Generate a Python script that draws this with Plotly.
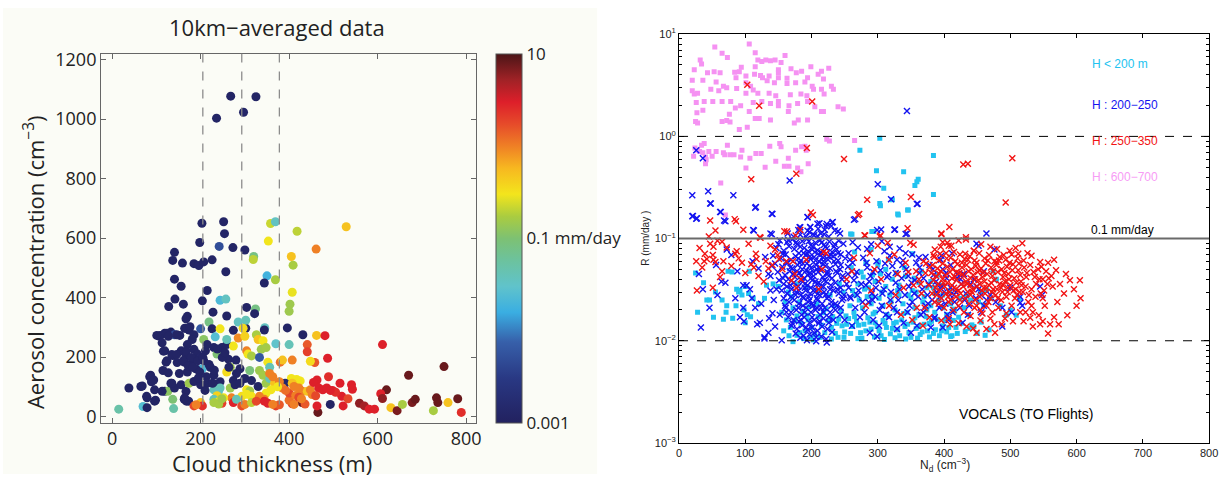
import numpy as np
import plotly.graph_objects as go

W, H = 1226, 480


def px(x):
    return x / W


def py(y):
    return 1 - y / H


# ---------------- left panel: 10 km averaged samples ----------------
# (cloud thickness [m], aerosol concentration [cm^-3], rain rate [mm/day])
left_points = [
    (236, 1003, 0.0012), (268, 1077, 0.0012), (297, 1023, 0.0013), (325, 1075, 0.0012),
    (203, 650, 0.0012), (252, 655, 0.0012), (254, 615, 0.0013), (198, 585, 0.0012), (242, 572, 0.005),
    (273, 568, 0.0012), (300, 560, 0.0013), (353, 590, 0.3), (358, 649, 0.22), (369, 655, 0.035),
    (418, 623, 0.2), (529, 638, 0.5), (461, 563, 1.0), (405, 538, 0.5), (320, 538, 0.08),
    (141, 552, 0.0012), (137, 525, 0.0012), (159, 516, 0.0012), (185, 514, 0.0012), (196, 508, 0.0013),
    (207, 520, 0.0012), (226, 527, 0.0012), (319, 528, 0.2), (257, 487, 0.0012), (409, 509, 0.17),
    (350, 473, 0.018), (369, 460, 0.17), (344, 449, 0.0012), (141, 462, 0.0012), (156, 438, 0.0012),
    (215, 424, 0.0012), (407, 418, 0.28), (402, 378, 0.15), (400, 354, 0.15), (142, 395, 0.0012),
    (128, 370, 0.0012), (161, 378, 0.0012), (170, 337, 0.0012), (204, 389, 0.0012), (228, 351, 0.0012),
    (244, 391, 0.022), (257, 395, 0.035), (259, 338, 0.0012), (304, 367, 0.0012), (324, 362, 0.08),
    (322, 346, 0.0012), (302, 297, 0.0013), (274, 290, 0.0012), (285, 318, 0.035), (302, 324, 0.04),
    (345, 299, 0.035), (344, 291, 0.0012), (396, 298, 0.0012), (431, 275, 0.0012), (462, 273, 0.5),
    (481, 272, 3.0), (441, 242, 1.5), (441, 218, 2.0), (458, 182, 1.5), (487, 196, 3.0),
    (611, 242, 3.0), (750, 168, 8.0), (670, 139, 8.0), (620, 90, 8.0), (607, 77, 3.0), (611, 61, 6.0),
    (489, 134, 2.5), (400, 242, 0.04), (370, 245, 0.03), (380, 183, 1.2), (385, 190, 0.5), (407, 190, 1.0),
    (417, 125, 0.3), (425, 120, 0.3), (405, 128, 0.3), (448, 186, 0.35), (391, 112, 0.0015),
    (519, 68, 3.0), (533, 60, 1.8), (541, 107, 3.0), (543, 92, 3.0), (515, 112, 3.0), (498, 88, 3.0),
    (505, 82, 2.5), (559, 45, 6.0), (570, 36, 5.0), (581, 25, 3.0), (593, 25, 3.0), (630, 30, 0.5),
    (644, 20, 7.0), (656, 41, 0.17), (678, 47, 7.0), (685, 58, 8.0), (726, 20, 0.17), (733, 63, 8.0),
    (736, 47, 8.0), (759, 47, 0.5), (781, 60, 8.0), (789, 14, 2.5), (522, 36, 3.0), (493, 41, 0.0012),
    (465, 14, 8.0), (463, 36, 3.0), (429, 47, 8.0), (436, 42, 1.5), (407, 43, 2.0), (400, 55, 1.2),
    (400, 79, 1.8),
    (15, 25, 0.05), (38, 96, 0.0012), (70, 34, 0.025), (79, 30, 0.0012), (65, 101, 0.0012), (78, 68, 0.0012),
    (96, 52, 0.0012), (85, 134, 0.0012), (89, 117, 0.0012), (96, 90, 0.0012), (119, 85, 0.0012),
    (126, 85, 0.12), (137, 58, 0.1), (139, 27, 0.05), (141, 96, 0.0012), (133, 112, 0.0012),
    (115, 155, 0.0012), (122, 183, 0.0012), (119, 221, 0.0012), (107, 270, 0.0012), (119, 280, 0.0012),
    (133, 284, 0.0012), (141, 275, 0.005), (137, 205, 0.0012), (156, 221, 0.0012), (167, 204, 0.0012),
    (163, 183, 0.0012), (170, 150, 0.0012), (156, 107, 0.0012), (167, 85, 0.0012), (163, 58, 0.0012),
    (173, 52, 0.0012), (174, 112, 0.15), (185, 118, 0.0012), (167, 297, 0.0012), (174, 291, 0.0012),
    (185, 275, 0.0012), (181, 259, 0.0012), (170, 242, 0.0012), (185, 226, 0.0012), (193, 210, 0.0012),
    (200, 199, 0.0013), (204, 161, 0.022), (207, 188, 0.0012), (211, 221, 0.0012), (200, 295, 0.006),
    (207, 259, 0.12), (215, 242, 0.0012), (219, 318, 0.08), (226, 295, 0.0012), (233, 268, 0.025),
    (230, 232, 0.0012), (237, 210, 0.1), (248, 232, 0.0012), (259, 242, 0.0012), (244, 295, 0.3),
    (259, 259, 0.04), (274, 237, 0.3), (263, 193, 0.0012), (267, 166, 0.15), (259, 150, 0.35),
    (285, 264, 0.9), (296, 297, 0.35), (300, 270, 0.4), (304, 221, 1.0), (307, 210, 0.3), (315, 204, 0.17),
    (326, 275, 0.17), (330, 259, 0.5), (341, 255, 0.3), (337, 226, 0.15), (333, 199, 0.006),
    (348, 232, 0.16), (352, 183, 0.3), (356, 166, 0.04), (333, 155, 0.15), (311, 155, 0.09),
    (289, 161, 0.0012), (281, 145, 0.0012), (274, 121, 0.0012), (244, 117, 0.0012), (230, 139, 0.0012),
    (215, 112, 0.0012), (200, 107, 0.0012), (189, 161, 0.0012), (178, 177, 0.0012), (222, 166, 0.0012),
    (235, 108, 0.0013), (244, 96, 0.04), (230, 90, 0.04), (240, 80, 0.035), (237, 70, 0.4),
    (267, 96, 0.15), (278, 107, 0.0012), (289, 112, 0.0012), (300, 128, 0.0012), (315, 121, 0.0012),
    (330, 101, 0.0012), (304, 90, 0.3), (311, 86, 0.16), (315, 68, 0.3), (293, 68, 0.35),
    (341, 139, 0.16), (348, 112, 0.15), (356, 128, 0.04), (367, 112, 0.5), (359, 90, 0.3), (348, 79, 0.3),
    (333, 68, 1.0), (344, 58, 1.0), (370, 36, 2.0), (378, 40, 1.5), (363, 134, 1.0), (378, 117, 1.0),
    (385, 96, 1.0), (392, 88, 1.2), (374, 100, 0.3), (356, 145, 1.0), (270, 63, 1.0), (252, 63, 0.3),
    (230, 58, 0.04), (240, 50, 0.3), (248, 45, 2.0), (200, 47, 0.5), (204, 36, 2.5), (185, 36, 1.8),
    (190, 40, 1.0), (230, 47, 0.17), (241, 42, 0.17), (248, 60, 0.16), (274, 47, 3.0), (281, 58, 0.04),
    (293, 36, 1.8), (300, 41, 1.0), (304, 75, 0.3), (315, 47, 0.2), (326, 52, 1.8), (344, 52, 3.0),
    (352, 45, 3.0), (363, 41, 1.0), (411, 41, 1.0), (407, 112, 0.5), (411, 101, 1.0), (422, 96, 1.0),
    (430, 85, 1.0), (441, 85, 0.5), (448, 90, 1.0), (463, 123, 3.0), (455, 115, 3.0), (467, 96, 3.0),
    (476, 90, 3.0), (485, 96, 3.0), (493, 88, 3.0), (452, 74, 1.0), (460, 70, 1.8), (415, 71, 1.0),
    (422, 65, 1.8), (428, 60, 1.0),
    (68, 103, 0.0012), (79, 63, 0.0012), (98, 55, 0.0012), (87, 139, 0.0012), (94, 123, 0.0012),
    (113, 85, 0.0012), (135, 112, 0.0012), (109, 273, 0.0012), (124, 280, 0.0012), (153, 273, 0.0012),
    (164, 297, 0.0012), (116, 220, 0.0012), (124, 188, 0.0012), (127, 147, 0.0012), (135, 209, 0.0012),
    (146, 209, 0.0012), (147, 182, 0.0012), (152, 145, 0.0012), (161, 188, 0.0012), (168, 220, 0.0012),
    (172, 171, 0.0012), (179, 199, 0.0012), (183, 166, 0.0012), (194, 188, 0.0012), (198, 150, 0.0012),
    (205, 199, 0.0012), (213, 134, 0.0012), (227, 112, 0.0012), (231, 156, 0.0012), (238, 227, 0.0012),
    (249, 199, 0.0012), (264, 166, 0.0012), (168, 52, 0.0012), (164, 63, 0.0012), (167, 329, 0.0012),
    (176, 302, 0.0012), (146, 275, 0.0012), (127, 270, 0.0012), (101, 273, 0.0012), (113, 248, 0.0012),
    (219, 175, 0.0012), (255, 215, 0.0012), (280, 190, 0.0012), (195, 130, 0.0012), (210, 88, 0.0012),
]
thickness = [p[0] for p in left_points]
aerosol = [p[1] for p in left_points]
rain_rate = [p[2] for p in left_points]

thickness_bins = [205, 293, 378]

rain_colorscale = [
    [0.00, "#22215f"], [0.12, "#293883"], [0.22, "#3760aa"], [0.30, "#3aaee2"],
    [0.37, "#60c3cb"], [0.44, "#6cc29e"], [0.50, "#7dc173"], [0.56, "#aacc40"],
    [0.62, "#f3e51c"], [0.69, "#f7b820"], [0.75, "#ef8025"], [0.81, "#e64b2a"],
    [0.87, "#dd1f2a"], [0.93, "#a02226"], [1.00, "#4b1517"],
]
cbar_labels_at = [-3, -1, 1]
cbar_labels = ["0.001", "0.1 mm/day", "10"]
cbar_minor = [-2.5, -2, -1.5, -1, -0.5, 0, 0.5]

# ---------------- right panel: VOCALS flight data ----------------
# (droplet number N_d [cm^-3], rain rate R [mm/day]) per cloud-depth class
violet_pts = [
    (106, 8.0), (54, 7.5), (32, 5.6), (34, 5.1), (65, 6.5), (73, 5.9), (115, 6.6), (160, 6.2), (119, 5.6),
    (125, 5.4), (131, 5.6), (138, 5.5), (145, 5.6), (154, 5.3), (115, 4.8), (23, 4.5), (43, 4.2), (53, 4.3),
    (62, 4.2), (84, 4.25), (94, 4.75), (91, 4.3), (101, 3.9), (114, 4.05), (123, 3.95), (136, 3.9),
    (150, 4.5), (150, 4.2), (163, 3.7), (169, 4.6), (177, 4.2), (185, 4.35), (199, 4.8), (210, 4.05),
    (215, 4.35), (226, 4.65), (20, 3.55), (36, 3.55), (56, 3.4), (67, 3.1), (86, 3.75), (101, 3.35),
    (108, 3.1), (126, 3.75), (133, 3.5), (144, 3.35), (150, 3.75), (163, 3.3), (176, 3.35), (190, 3.4),
    (194, 3.75), (201, 3.1), (218, 3.65), (230, 3.1), (233, 2.9), (20, 2.8), (23, 2.6), (28, 2.65),
    (48, 2.9), (60, 2.8), (72, 3.0), (87, 2.95), (101, 2.65), (112, 2.85), (119, 2.65), (136, 2.65),
    (146, 2.5), (168, 2.55), (184, 2.6), (193, 2.5), (203, 2.9), (215, 2.9), (219, 2.6), (26, 2.15),
    (38, 2.2), (51, 2.2), (65, 2.2), (78, 2.2), (93, 2.0), (112, 2.15), (125, 2.2), (138, 2.1), (150, 2.2),
    (166, 2.0), (179, 2.1), (194, 2.2), (205, 1.95), (218, 1.75), (240, 1.95), (248, 1.85), (27, 1.7),
    (36, 1.8), (76, 1.65), (85, 1.9), (106, 1.75), (115, 1.5), (121, 1.5), (150, 2.0), (165, 1.75),
    (174, 1.35), (180, 1.45), (194, 1.45), (215, 1.75), (25, 1.4), (28, 1.35), (65, 1.4), (72, 1.43),
    (77, 1.38), (91, 1.17), (103, 1.23), (138, 1.45),
    (22, 0.64), (28, 0.73), (34, 0.82), (38, 0.85), (31, 0.71), (36, 0.69), (40, 0.63), (41, 0.59),
    (40, 0.54), (45, 0.71), (50, 0.64), (56, 0.71), (67, 0.69), (69, 0.66), (77, 0.66), (73, 0.82),
    (83, 0.66), (93, 0.63), (95, 0.73), (107, 0.61), (116, 0.68), (124, 0.68), (130, 0.5), (137, 0.8),
    (146, 0.57), (152, 0.85), (154, 0.79), (165, 0.61), (159, 0.51), (166, 0.51), (179, 0.49),
    (184, 0.45), (176, 0.73), (185, 0.79), (190, 0.8), (192, 0.73), (195, 0.54), (101, 0.49),
    (63, 0.35), (70, 0.17), (223, 0.94), (227, 0.9), (265, 0.91), (24, 0.77),
]
cyan_pts = [
    (303, 0.96), (273, 0.73), (298, 0.46), (339, 0.45), (309, 0.31), (303, 0.22), (356, 0.33), (359, 0.36),
    (361, 0.38), (384, 0.65), (384, 0.27), (345, 0.19), (330, 0.174), (322, 0.24), (291, 0.117),
    (259, 0.111), (261, 0.11), (294, 0.117), (304, 0.21), (346, 0.19), (331, 0.17), (290, 0.078),
    (265, 0.074), (301, 0.059), (316, 0.062), (352, 0.071),
    (25, 0.046), (37, 0.037), (46, 0.025), (28, 0.019), (52, 0.017), (55, 0.03), (71, 0.019), (72, 0.022),
    (81, 0.0166), (87, 0.032), (92, 0.031), (100, 0.034), (95, 0.028), (105, 0.029), (74, 0.048),
    (80, 0.047), (106, 0.048), (100, 0.015), (112, 0.026), (120, 0.023), (129, 0.026), (132, 0.035),
    (142, 0.036), (150, 0.034), (42, 0.025), (65, 0.025), (67, 0.0162), (86, 0.022), (90, 0.03),
    (98, 0.02), (103, 0.018), (108, 0.0172),
    (155, 0.019), (162, 0.016), (168, 0.0135), (172, 0.021), (178, 0.0175), (184, 0.0148), (190, 0.0125),
    (187, 0.0195), (195, 0.016), (200, 0.0135), (205, 0.0115), (210, 0.0172), (215, 0.0142), (220, 0.012),
    (225, 0.0158), (230, 0.0135), (236, 0.0118), (241, 0.0163), (246, 0.014), (250, 0.0122), (172, 0.0098),
    (188, 0.0105), (178, 0.0113), (230, 0.0104), (240, 0.0108), (203, 0.0102),
    (160, 0.024), (170, 0.027), (182, 0.024), (196, 0.0215), (208, 0.023), (222, 0.0205), (234, 0.022),
    (245, 0.0195), (252, 0.0175),
    (256, 0.0165), (262, 0.0138), (268, 0.0155), (274, 0.012), (279, 0.0145), (285, 0.0168), (290, 0.013),
    (296, 0.015), (302, 0.0125), (308, 0.0158), (313, 0.0135), (319, 0.0117), (324, 0.0148), (330, 0.0128),
    (336, 0.016), (341, 0.0138), (347, 0.012), (353, 0.0152), (358, 0.0132), (364, 0.0115), (370, 0.0145),
    (375, 0.0125), (381, 0.0155), (387, 0.0128), (393, 0.0112), (398, 0.014), (404, 0.0122), (410, 0.011),
    (418, 0.0135), (432, 0.0123), (445, 0.0138), (462, 0.0113), (412, 0.0112), (326, 0.0107),
    (342, 0.0104), (360, 0.0106), (378, 0.0109), (295, 0.0109), (310, 0.0103), (270, 0.0105),
    (258, 0.022), (264, 0.019), (272, 0.025), (277, 0.021), (284, 0.027), (290, 0.023), (296, 0.019),
    (302, 0.026), (308, 0.022), (314, 0.018), (320, 0.024), (326, 0.02), (332, 0.028), (338, 0.023),
    (344, 0.019), (350, 0.026), (356, 0.021), (362, 0.018), (368, 0.024), (374, 0.02), (380, 0.022),
    (386, 0.019), (392, 0.025), (398, 0.021), (404, 0.018), (410, 0.023), (416, 0.0195), (422, 0.017),
    (430, 0.021), (437, 0.018), (452, 0.024), (460, 0.0224), (464, 0.0316), (479, 0.04), (474, 0.048),
    (494, 0.0178), (509, 0.0178), (514, 0.0257), (434, 0.0275), (442, 0.0143), (414, 0.0204),
    (262, 0.031), (270, 0.036), (278, 0.042), (286, 0.033), (296, 0.038), (304, 0.045), (312, 0.034),
    (322, 0.04), (332, 0.035), (342, 0.043), (352, 0.031), (362, 0.037), (374, 0.033), (386, 0.029),
    (396, 0.035), (260, 0.052), (282, 0.058), (300, 0.055), (340, 0.052), (366, 0.048), (390, 0.044),
    (165, 0.03), (178, 0.036), (192, 0.033), (210, 0.031), (228, 0.028), (242, 0.036), (248, 0.03),
    (158, 0.0125), (166, 0.0112), (175, 0.0158), (182, 0.012), (193, 0.0178), (198, 0.0108),
    (213, 0.0108), (218, 0.0188), (232, 0.0172), (238, 0.0148), (249, 0.0108), (253, 0.0145),
    (259, 0.0118), (265, 0.0172), (271, 0.0142), (276, 0.0106), (282, 0.0125), (288, 0.0152),
    (293, 0.0183), (299, 0.0138), (305, 0.0112), (311, 0.0148), (316, 0.0172), (322, 0.0132),
    (328, 0.0152), (333, 0.0112), (339, 0.0185), (345, 0.0145), (350, 0.0108), (356, 0.0168),
    (362, 0.0138), (367, 0.0122), (373, 0.0172), (378, 0.0148), (384, 0.0118), (390, 0.0162),
    (396, 0.0125), (401, 0.0158), (407, 0.0135), (414, 0.0158), (420, 0.0118), (426, 0.0148),
    (438, 0.0132), (450, 0.0118), (456, 0.0152), (468, 0.0128), (266, 0.028), (280, 0.032), (292, 0.027),
    (306, 0.03), (318, 0.028), (330, 0.031), (346, 0.028), (358, 0.03), (370, 0.027), (384, 0.033),
    (398, 0.028), (408, 0.031), (424, 0.026), (440, 0.025), (455, 0.03), (470, 0.026), (485, 0.022),
    (500, 0.02), (275, 0.047), (292, 0.044), (312, 0.05), (328, 0.046), (355, 0.041), (380, 0.038),
]
blue_pts = [
    (344, 1.77), (26, 0.73), (36, 0.61), (167, 0.37), (300, 0.34), (20, 0.265), (44, 0.29), (47, 0.22),
    (82, 0.265), (320, 0.243), (359, 0.218), (115, 0.2), (20, 0.165), (26, 0.156), (62, 0.182),
    (68, 0.15), (140, 0.175), (194, 0.163), (223, 0.139), (231, 0.144), (209, 0.14), (194, 0.119),
    (264, 0.153), (299, 0.121), (325, 0.122), (342, 0.111), (112, 0.121), (138, 0.112), (180, 0.121),
    (183, 0.129), (198, 0.13), (235, 0.12), (464, 0.112), (449, 0.089),
    (48, 0.22), (21, 0.166), (27, 0.158), (63, 0.182), (70, 0.148), (116, 0.204), (141, 0.174),
    (113, 0.12), (140, 0.11), (194, 0.162), (182, 0.129), (198, 0.129), (212, 0.141), (222, 0.132),
    (232, 0.145), (230, 0.133), (243, 0.112), (202, 0.11), (209, 0.106), (219, 0.11), (164, 0.112),
    (305, 0.123), (326, 0.123), (344, 0.112), (360, 0.219), (266, 0.155),
    (152, 0.096), (163, 0.092), (171, 0.098), (178, 0.088), (186, 0.094), (193, 0.099), (199, 0.086),
    (206, 0.091), (213, 0.097), (219, 0.087), (227, 0.093), (234, 0.083), (241, 0.095), (248, 0.089),
    (147, 0.081), (158, 0.076), (166, 0.084), (174, 0.079), (181, 0.072), (189, 0.081), (195, 0.075),
    (202, 0.083), (209, 0.077), (216, 0.071), (223, 0.08), (231, 0.074), (238, 0.078), (244, 0.07),
    (142, 0.068), (154, 0.064), (161, 0.07), (169, 0.062), (176, 0.067), (184, 0.061), (191, 0.069),
    (198, 0.063), (204, 0.066), (211, 0.06), (218, 0.065), (225, 0.062), (233, 0.067), (240, 0.061),
    (251, 0.064), (145, 0.057), (156, 0.053), (164, 0.058), (171, 0.051), (179, 0.055), (186, 0.05),
    (193, 0.057), (200, 0.052), (207, 0.055), (214, 0.049), (221, 0.054), (228, 0.051), (236, 0.056),
    (243, 0.05), (255, 0.053), (149, 0.047), (160, 0.044), (167, 0.048), (175, 0.042), (182, 0.046),
    (189, 0.041), (196, 0.045), (203, 0.043), (210, 0.047), (217, 0.042), (224, 0.045), (231, 0.041),
    (239, 0.046), (247, 0.043), (151, 0.039), (158, 0.036), (165, 0.04), (173, 0.037), (180, 0.034),
    (187, 0.038), (194, 0.035), (201, 0.039), (208, 0.036), (215, 0.034), (222, 0.038), (229, 0.035),
    (236, 0.037), (244, 0.033), (253, 0.036), (155, 0.031), (163, 0.029), (170, 0.032), (177, 0.03),
    (184, 0.028), (191, 0.031), (198, 0.029), (205, 0.032), (212, 0.028), (219, 0.03), (226, 0.027),
    (233, 0.031), (241, 0.029), (249, 0.028), (158, 0.026), (166, 0.024), (174, 0.025), (181, 0.023),
    (188, 0.026), (195, 0.024), (202, 0.022), (209, 0.025), (216, 0.023), (223, 0.026), (230, 0.024),
    (238, 0.022), (246, 0.025), (161, 0.021), (169, 0.019), (177, 0.02), (185, 0.018), (192, 0.021),
    (199, 0.019), (206, 0.02), (213, 0.018), (220, 0.021), (228, 0.019), (236, 0.02), (243, 0.018),
    (165, 0.017), (173, 0.016), (181, 0.0155), (189, 0.017), (197, 0.015), (204, 0.016), (211, 0.0148),
    (218, 0.0165), (226, 0.015), (233, 0.016), (170, 0.014), (178, 0.013), (186, 0.0142), (194, 0.0128),
    (201, 0.0135), (209, 0.0125), (216, 0.0138), (224, 0.013), (231, 0.0122), (176, 0.0118),
    (188, 0.0112), (197, 0.0115), (207, 0.0108), (215, 0.011), (222, 0.0104), (183, 0.0107),
    (193, 0.0101), (207, 0.0099), (223, 0.0096), (155, 0.0101), (129, 0.0108),
    (188, 0.072), (197, 0.066), (205, 0.074), (212, 0.069), (192, 0.049), (203, 0.047), (213, 0.052),
    (185, 0.039), (199, 0.041), (211, 0.037), (190, 0.033), (205, 0.03), (218, 0.034), (196, 0.027),
    (208, 0.026), (187, 0.022), (201, 0.023), (214, 0.021), (194, 0.044), (182, 0.058), (218, 0.06),
    (226, 0.043), (229, 0.069), (172, 0.045), (168, 0.035), (176, 0.028), (160, 0.022), (152, 0.018),
    (143, 0.025), (138, 0.031), (135, 0.045), (140, 0.054),
    (150, 0.088), (157, 0.071), (162, 0.059), (168, 0.052), (157, 0.041), (163, 0.034), (169, 0.027),
    (162, 0.019), (171, 0.0148), (177, 0.092), (183, 0.083), (180, 0.064), (187, 0.057), (178, 0.048),
    (184, 0.043), (190, 0.036), (181, 0.031), (187, 0.027), (180, 0.021), (190, 0.019), (184, 0.016),
    (192, 0.0135), (196, 0.094), (201, 0.078), (194, 0.071), (206, 0.061), (197, 0.054), (208, 0.05),
    (198, 0.046), (206, 0.038), (199, 0.033), (210, 0.029), (197, 0.025), (208, 0.021), (201, 0.017),
    (212, 0.0155), (204, 0.012), (215, 0.091), (221, 0.083), (214, 0.074), (226, 0.067), (217, 0.056),
    (224, 0.047), (219, 0.039), (228, 0.032), (221, 0.028), (230, 0.022), (218, 0.019), (226, 0.017),
    (235, 0.088), (240, 0.072), (234, 0.06), (244, 0.055), (237, 0.048), (246, 0.04), (239, 0.032),
    (248, 0.026), (236, 0.023), (244, 0.021), (250, 0.016), (255, 0.045), (256, 0.033), (258, 0.027),
    (192, 0.105), (204, 0.108), (214, 0.112), (226, 0.104), (183, 0.109), (240, 0.118), (173, 0.104),
    (165, 0.097), (210, 0.125), (197, 0.116), (220, 0.122),
    (256, 0.072), (262, 0.058), (268, 0.047), (264, 0.039), (271, 0.031), (259, 0.026), (266, 0.021),
    (273, 0.017), (261, 0.014), (278, 0.065), (284, 0.052), (289, 0.043), (282, 0.035), (291, 0.029),
    (286, 0.024), (280, 0.019), (293, 0.016), (288, 0.012), (298, 0.06), (304, 0.049), (301, 0.038),
    (309, 0.032), (296, 0.027), (306, 0.022), (312, 0.018), (302, 0.014), (299, 0.011), (318, 0.068),
    (322, 0.054), (316, 0.044), (327, 0.037), (320, 0.03), (331, 0.025), (324, 0.021), (317, 0.017),
    (329, 0.013), (338, 0.061), (343, 0.05), (336, 0.041), (347, 0.034), (341, 0.028), (352, 0.024),
    (345, 0.019), (339, 0.015), (350, 0.012), (358, 0.058), (363, 0.046), (356, 0.039), (367, 0.032),
    (361, 0.027), (372, 0.022), (365, 0.018), (359, 0.014), (378, 0.055), (384, 0.044), (377, 0.036),
    (389, 0.03), (382, 0.025), (393, 0.021), (386, 0.017), (380, 0.0135), (398, 0.05), (404, 0.041),
    (397, 0.034), (409, 0.028), (402, 0.023), (413, 0.019), (407, 0.016), (420, 0.045), (426, 0.036),
    (418, 0.03), (431, 0.025), (424, 0.021), (436, 0.018), (428, 0.015), (445, 0.04), (452, 0.032),
    (448, 0.026), (460, 0.022), (456, 0.019), (470, 0.028), (478, 0.024), (488, 0.021), (500, 0.033),
    (515, 0.027), (548, 0.028), (476, 0.078), (488, 0.0138), (502, 0.019), (270, 0.082), (290, 0.088),
    (310, 0.075), (333, 0.08), (352, 0.07), (372, 0.066), (395, 0.062), (306, 0.094), (262, 0.092),
    (410, 0.055), (420, 0.041), (390, 0.035), (400, 0.03), (430, 0.045), (440, 0.036), (395, 0.022),
    (405, 0.018), (415, 0.028), (385, 0.0165), (398, 0.0135), (452, 0.085), (545, 0.034), (518, 0.022),
    (396, 0.068), (412, 0.072), (460, 0.048), (515, 0.0235),
    (258, 0.062), (266, 0.044), (275, 0.036), (269, 0.028), (277, 0.024), (283, 0.058), (293, 0.047),
    (287, 0.038), (297, 0.033), (292, 0.025), (303, 0.02), (311, 0.057), (314, 0.042), (307, 0.029),
    (319, 0.025), (327, 0.046), (333, 0.032), (329, 0.019), (337, 0.055), (346, 0.043), (351, 0.037),
    (355, 0.029), (348, 0.022), (363, 0.052), (369, 0.041), (375, 0.028), (369, 0.019), (383, 0.05),
    (388, 0.038), (394, 0.027), (376, 0.023), (403, 0.046), (410, 0.033), (416, 0.024), (425, 0.04),
    (433, 0.029), (438, 0.022), (449, 0.034), (456, 0.028), (464, 0.025), (329, 0.062), (362, 0.065),
    (284, 0.079), (342, 0.072), (318, 0.083),
    (30, 0.045), (36, 0.032), (33, 0.0135), (46, 0.021), (64, 0.038), (70, 0.037), (72, 0.078),
    (79, 0.069), (97, 0.035), (102, 0.035), (107, 0.032), (110, 0.026), (97, 0.021), (98, 0.0155),
    (118, 0.0145), (122, 0.015), (135, 0.012), (129, 0.0105), (136, 0.0166), (115, 0.021), (124, 0.023),
    (141, 0.0186), (145, 0.0138), (147, 0.032), (138, 0.043), (120, 0.051), (111, 0.06), (130, 0.066),
    (88, 0.048), (56, 0.055), (58, 0.028), (85, 0.026), (92, 0.017),
]
red_pts = [
    (103, 3.2), (121, 2.0), (201, 2.2), (249, 0.6), (177, 0.43), (109, 0.38), (193, 0.77), (350, 0.255),
    (284, 0.24), (270, 0.17), (199, 0.18), (47, 0.15), (84, 0.155), (86, 0.148), (55, 0.12), (97, 0.122),
    (159, 0.118), (163, 0.117), (122, 0.103), (45, 0.105), (280, 0.108), (303, 0.105), (345, 0.126),
    (183, 0.121), (176, 0.107), (429, 0.53), (436, 0.54), (503, 0.61), (493, 0.225), (408, 0.13),
    (396, 0.112), (202, 0.17), (272, 0.174), (281, 0.107), (304, 0.107), (396, 0.11),
    (26, 0.06), (27, 0.031), (39, 0.071), (38, 0.06), (42, 0.063), (47, 0.089), (52, 0.083), (51, 0.069),
    (52, 0.062), (55, 0.059), (51, 0.033), (65, 0.093), (65, 0.048), (67, 0.06), (79, 0.054), (85, 0.071),
    (87, 0.075), (95, 0.058), (105, 0.089), (109, 0.056), (116, 0.071), (117, 0.063), (123, 0.102),
    (120, 0.043), (131, 0.06), (135, 0.051), (141, 0.055), (145, 0.078), (149, 0.069), (151, 0.063),
    (162, 0.06), (172, 0.06), (175, 0.045), (170, 0.039), (177, 0.033), (184, 0.04), (192, 0.062),
    (216, 0.05), (218, 0.074), (222, 0.072), (211, 0.032), (253, 0.04), (261, 0.048), (31, 0.081),
    (58, 0.095), (72, 0.082), (90, 0.064), (100, 0.046), (113, 0.052), (128, 0.038), (138, 0.085),
    (156, 0.05), (35, 0.052), (62, 0.042),
    (282, 0.022), (317, 0.022), (327, 0.028), (359, 0.021), (371, 0.021), (339, 0.033), (354, 0.035),
    (366, 0.029), (377, 0.035), (315, 0.091), (317, 0.062), (349, 0.091), (354, 0.087), (342, 0.058),
    (369, 0.06), (373, 0.057), (384, 0.069), (394, 0.071), (295, 0.05), (305, 0.04), (330, 0.045),
    (346, 0.047), (362, 0.04), (335, 0.018), (352, 0.016), (368, 0.014), (378, 0.017), (325, 0.07),
    (288, 0.072), (300, 0.085), (264, 0.065), (290, 0.031),
    (398, 0.092), (411, 0.085), (422, 0.096), (433, 0.098), (445, 0.076), (432, 0.071), (456, 0.088),
    (470, 0.083), (480, 0.079), (490, 0.069), (499, 0.076), (508, 0.081), (518, 0.09), (526, 0.072),
    (385, 0.066), (392, 0.061), (403, 0.072), (410, 0.065), (417, 0.06), (424, 0.07), (431, 0.063),
    (439, 0.067), (446, 0.061), (453, 0.072), (461, 0.064), (468, 0.069), (476, 0.06), (484, 0.066),
    (493, 0.062), (502, 0.07), (511, 0.064), (520, 0.061), (532, 0.068), (545, 0.059), (557, 0.058),
    (566, 0.062), (383, 0.055), (390, 0.051), (398, 0.057), (405, 0.053), (413, 0.05), (420, 0.056),
    (427, 0.052), (434, 0.055), (441, 0.05), (448, 0.054), (456, 0.051), (463, 0.057), (471, 0.052),
    (479, 0.055), (487, 0.05), (495, 0.053), (504, 0.056), (512, 0.049), (521, 0.052), (530, 0.055),
    (542, 0.05), (554, 0.048), (381, 0.046), (388, 0.043), (395, 0.048), (402, 0.044), (409, 0.047),
    (416, 0.042), (423, 0.046), (430, 0.043), (437, 0.048), (444, 0.044), (451, 0.047), (458, 0.042),
    (465, 0.045), (473, 0.043), (481, 0.047), (489, 0.042), (497, 0.045), (506, 0.041), (515, 0.044),
    (525, 0.046), (537, 0.042), (549, 0.04), (562, 0.043), (584, 0.045), (384, 0.039), (391, 0.036),
    (398, 0.04), (405, 0.037), (412, 0.035), (419, 0.039), (426, 0.036), (433, 0.038), (440, 0.035),
    (447, 0.04), (454, 0.036), (461, 0.038), (468, 0.035), (476, 0.039), (484, 0.036), (492, 0.038),
    (500, 0.035), (509, 0.037), (516, 0.038), (523, 0.034), (532, 0.032), (544, 0.04), (556, 0.036),
    (605, 0.039), (387, 0.033), (394, 0.031), (401, 0.034), (408, 0.03), (415, 0.033), (422, 0.031),
    (429, 0.034), (436, 0.03), (443, 0.032), (450, 0.034), (457, 0.031), (464, 0.033), (472, 0.03),
    (480, 0.032), (488, 0.03), (496, 0.033), (505, 0.031), (514, 0.03), (546, 0.029), (549, 0.026),
    (564, 0.034), (606, 0.026), (389, 0.028), (396, 0.026), (403, 0.029), (410, 0.025), (418, 0.027),
    (425, 0.029), (432, 0.026), (440, 0.028), (447, 0.025), (454, 0.027), (462, 0.029), (470, 0.026),
    (478, 0.028), (486, 0.025), (494, 0.027), (502, 0.022), (510, 0.028), (532, 0.022), (600, 0.022),
    (523, 0.019), (392, 0.023), (400, 0.021), (407, 0.024), (414, 0.02), (422, 0.022), (430, 0.019),
    (438, 0.023), (446, 0.021), (455, 0.02), (464, 0.022), (473, 0.019), (482, 0.021), (494, 0.0186),
    (504, 0.0155), (534, 0.019), (543, 0.0178), (549, 0.0155), (586, 0.0178), (566, 0.017),
    (407, 0.0166), (422, 0.0148), (434, 0.0138), (444, 0.0132), (449, 0.012), (464, 0.013),
    (476, 0.0145), (477, 0.012), (487, 0.0145), (520, 0.0155), (534, 0.0138), (560, 0.0145),
    (573, 0.0145), (557, 0.0118), (409, 0.0145), (396, 0.0158), (455, 0.0158), (512, 0.071),
    (479, 0.059), (405, 0.091), (407, 0.085), (499, 0.058), (433, 0.103), (445, 0.076),
    (386, 0.078), (395, 0.083), (404, 0.064), (415, 0.074), (419, 0.047), (427, 0.058), (436, 0.062),
    (440, 0.041), (449, 0.058), (452, 0.039), (459, 0.046), (466, 0.061), (471, 0.037), (474, 0.048),
    (483, 0.061), (486, 0.033), (491, 0.046), (498, 0.04), (503, 0.049), (508, 0.032), (513, 0.057),
    (517, 0.035), (524, 0.042), (528, 0.028), (535, 0.047), (539, 0.036), (547, 0.053), (551, 0.031),
    (558, 0.041), (569, 0.049), (575, 0.036), (581, 0.029), (590, 0.039), (596, 0.032), (386, 0.024),
    (393, 0.045), (399, 0.037), (406, 0.027), (412, 0.041), (418, 0.032), (424, 0.025), (428, 0.045),
    (435, 0.036), (442, 0.03), (449, 0.022), (453, 0.049), (460, 0.033), (467, 0.024), (474, 0.032),
    (481, 0.026), (489, 0.035), (496, 0.03), (507, 0.026), (519, 0.03), (527, 0.024), (538, 0.027),
    (552, 0.022), (571, 0.024), (440, 0.0175), (458, 0.0185), (470, 0.0165), (492, 0.0165),
    (515, 0.019), (530, 0.0168), (545, 0.0145), (382, 0.029), (378, 0.052), (372, 0.046), (365, 0.036),
    (358, 0.048),
]

rain_lines = [1.0, 0.1, 0.01]

# ---------------- figure ----------------
fig = go.Figure()

cb_bottom, cb_top = 427, 47

fig.add_trace(go.Scatter(
    x=thickness, y=aerosol, mode="markers", xaxis="x", yaxis="y", showlegend=False,
    marker=dict(
        size=9, color=np.log10(rain_rate), colorscale=rain_colorscale, cmin=-3, cmax=1,
        line=dict(width=0),
        colorbar=dict(
            x=px(498), xanchor="left", xpad=0, y=(py(cb_bottom) + py(cb_top)) / 2, yanchor="middle",
            ypad=0, len=(cb_bottom - cb_top) / H, lenmode="fraction", thickness=26,
            thicknessmode="pixels", outlinewidth=1, outlinecolor="#555",
            tickmode="array", tickvals=cbar_labels_at, ticktext=cbar_labels, ticks="",
            tickfont=dict(family="Open Sans", size=17, color="#222"),
        ),
    ),
))


def split(points):
    return [p[0] for p in points], [p[1] for p in points]


series = [
    ("H : 600-700", violet_pts, "square", "#f592f2", 5),
    ("H < 200 m", cyan_pts, "square", "#22c3f0", 5),
    ("H : 200-250", blue_pts, "x-thin", "#1414f0", 6),
    ("H : 250-350", red_pts, "x-thin", "#f21414", 6),
]
for name, pts, symbol, color, size in series:
    nd, rr = split(pts)
    if symbol == "square":
        marker = dict(symbol=symbol, size=size, color=color, line=dict(width=0))
    else:
        marker = dict(symbol=symbol, size=size, color=color, line=dict(width=1.4, color=color))
    fig.add_trace(go.Scatter(x=nd, y=rr, mode="markers", name=name, xaxis="x2", yaxis="y2",
                             showlegend=False, marker=marker))

left_font = dict(family="Open Sans", size=18, color="#222")
right_font = dict(family="Liberation Sans", size=11, color="#222")

minor_vals = [m * 10.0 ** e for e in range(-3, 1) for m in range(2, 10)]

fig.update_layout(
    width=W, height=H, margin=dict(l=0, r=0, t=0, b=0),
    paper_bgcolor="white", plot_bgcolor="rgba(0,0,0,0)",
    xaxis=dict(domain=[px(99), px(478)], range=[-25, 823], tickvals=[0, 200, 400, 600, 800],
               ticks="inside", ticklen=5, tickcolor="#666", showline=True, linecolor="#666",
               linewidth=1, mirror="ticks", showgrid=False, zeroline=False, tickfont=left_font,
               ticklabelstandoff=0, anchor="y"),
    yaxis=dict(domain=[py(427), py(47)], range=[-20, 1220], tickvals=[0, 200, 400, 600, 800, 1000, 1200],
               ticks="inside", ticklen=5, tickcolor="#666", showline=True, linecolor="#666",
               linewidth=1, mirror="ticks", showgrid=False, zeroline=False, tickfont=left_font,
               anchor="x"),
    xaxis2=dict(domain=[px(682.7), px(1218)], range=[0, 800], dtick=100, tick0=0,
                ticks="inside", ticklen=4, tickcolor="black", showline=True, linecolor="black",
                linewidth=1, mirror="ticks", showgrid=False, zeroline=False, tickfont=right_font,
                anchor="y2"),
    yaxis2=dict(domain=[py(448), py(27)], type="log", range=[-3, 1],
                tickmode="array", tickvals=[0.001, 0.01, 0.1, 1, 10],
                ticktext=["10<sup>−3</sup>", "10<sup>−2</sup>", "10<sup>−1</sup>", "10<sup>0</sup>",
                          "10<sup>1</sup>"],
                ticks="inside", ticklen=5, tickcolor="black", showline=True, linecolor="black",
                linewidth=1, mirror="ticks", showgrid=False, zeroline=False, tickfont=right_font,
                minor=dict(tickmode="array", tickvals=minor_vals, ticks="inside", ticklen=3,
                           tickcolor="black", showgrid=False),
                anchor="x2"),
)

shapes = [dict(type="rect", xref="paper", yref="paper", x0=0, x1=px(600), y0=0, y1=1,
               fillcolor="#fbfcf6", line=dict(width=0), layer="below")]
for xb in thickness_bins:
    shapes.append(dict(type="line", xref="x", yref="y domain", x0=xb, x1=xb, y0=0, y1=1,
                       line=dict(color="#8c8c8c", width=1.3, dash="dash")))
for r in rain_lines:
    if r == 0.1:
        line = dict(color="#6a6a6a", width=2)
    else:
        line = dict(color="black", width=1, dash="dash")
    shapes.append(dict(type="line", xref="x2 domain", yref="y2", x0=0, x1=1, y0=r, y1=r, line=line))
# half-decade tick marks on both edges of the colour bar
for t in cbar_minor:
    yy = py(cb_bottom) + (t + 3) / 4 * (py(cb_top) - py(cb_bottom))
    for xa, xb in ((498, 502), (520, 524)):
        shapes.append(dict(type="line", xref="paper", yref="paper", x0=px(xa), x1=px(xb), y0=yy, y1=yy,
                           line=dict(color="#555", width=1)))
fig.update_layout(shapes=shapes)

annotations = [
    dict(text="10km−averaged data", x=px(277), y=py(20), font=dict(family="Open Sans", size=22, color="#222")),
    dict(text="Cloud thickness (m)", x=px(272), y=py(469), font=dict(family="Open Sans", size=22, color="#222")),
    dict(text="Aerosol concentration (cm<sup>−3</sup>)", x=px(31), y=py(262), textangle=-90,
         font=dict(family="Open Sans", size=22, color="#222")),
    dict(text="R (mm/day )", x=px(648), y=py(237), textangle=-90,
         font=dict(family="Liberation Sans", size=10, color="#222")),
    dict(text="N<sub>d</sub> (cm<sup>−3</sup>)", x=px(951), y=py(471),
         font=dict(family="Liberation Sans", size=12, color="#222")),
    dict(text="H &lt; 200 m", x=px(1098), y=py(58), xanchor="left",
         font=dict(family="Liberation Sans", size=12, color="#22c3f0")),
    dict(text="H : 200−250", x=px(1098), y=py(100), xanchor="left",
         font=dict(family="Liberation Sans", size=12, color="#1414f0")),
    dict(text="H : 250−350", x=px(1098), y=py(137), xanchor="left",
         font=dict(family="Liberation Sans", size=12, color="#f21414")),
    dict(text="H : 600−700", x=px(1098), y=py(174), xanchor="left",
         font=dict(family="Liberation Sans", size=12, color="#f79cf5")),
    dict(text="0.1 mm/day", x=px(1097), y=py(229), xanchor="left",
         font=dict(family="Liberation Sans", size=12, color="black")),
    dict(text="VOCALS (TO Flights)", x=px(963), y=py(418), xanchor="left",
         font=dict(family="Liberation Sans", size=14, color="black")),
]
for a in annotations:
    a.setdefault("xanchor", "center")
    a.update(xref="paper", yref="paper", yanchor="middle", showarrow=False)
fig.update_layout(annotations=annotations)

fig.write_html("out.html")
